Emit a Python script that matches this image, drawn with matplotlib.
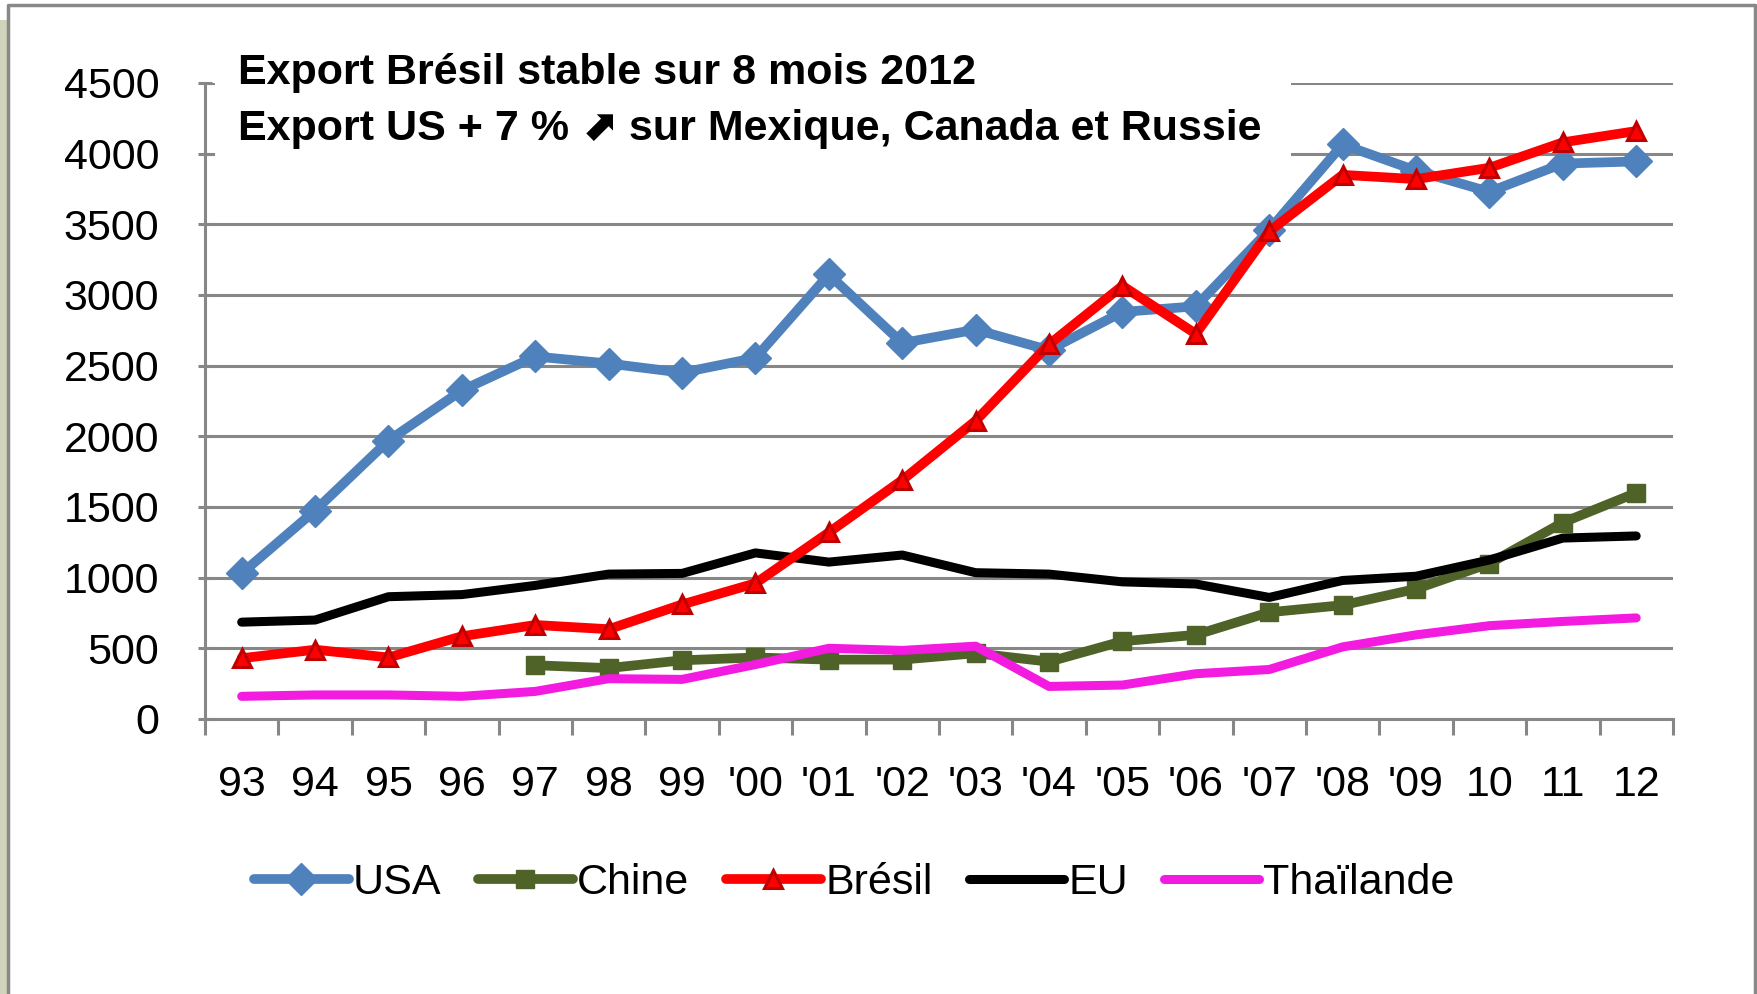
import matplotlib
matplotlib.use('Agg')
import matplotlib.pyplot as plt
from matplotlib.patches import Rectangle
from matplotlib.lines import Line2D
import numpy as np

# data (export volumes per year)
years = ['93', '94', '95', '96', '97', '98', '99', "'00", "'01", "'02", "'03",
         "'04", "'05", "'06", "'07", "'08", "'09", '10', '11', '12']
usa = [1030, 1475, 1970, 2325, 2565, 2515, 2450, 2555, 3145, 2660, 2755,
       2610, 2880, 2920, 3460, 4065, 3880, 3730, 3930, 3945]
chine = [np.nan] * 4 + [380, 360, 415, 435, 420, 420, 465, 405, 550, 595,
                        755, 805, 920, 1100, 1390, 1600]
bresil = [430, 490, 435, 585, 665, 635, 810, 960, 1320, 1690, 2110, 2650,
          3065, 2725, 3450, 3850, 3820, 3900, 4080, 4160]
eu = [685, 700, 865, 880, 945, 1025, 1030, 1175, 1110, 1160, 1035, 1025,
      970, 955, 860, 980, 1010, 1125, 1280, 1295]
thai = [160, 170, 170, 160, 195, 285, 280, 385, 500, 485, 515, 230, 240,
        320, 350, 510, 595, 660, 690, 715]

FONT = ['Liberation Sans', 'DejaVu Sans']
GREY = '#878787'

fig = plt.figure(figsize=(17.58, 9.94), dpi=100)
ax = fig.add_axes([0.1166, 0.2767, 0.835, 0.6398])

x = np.arange(len(years))
ax.plot(x, usa, color='#4f81bd', lw=7, marker='D', ms=16, mec='#4f81bd',
        label='USA', zorder=4, solid_capstyle='round')
ax.plot(x, chine, color='#4f6228', lw=7, marker='s', ms=13, mec='#4f6228',
        label='Chine', zorder=3, solid_capstyle='round')
ax.plot(x, bresil, color='#ff0000', lw=7, marker='^', ms=13, mfc='#ff0000',
        mec='#c00000', mew=2.2, label='Brésil', zorder=5, solid_capstyle='round')
ax.plot(x, eu, color='black', lw=6.5, label='EU', zorder=3,
        solid_capstyle='round')
ax.plot(x, thai, color='#f31bdf', lw=6.5, label='Thaïlande', zorder=3,
        solid_capstyle='round')

ax.set_xlim(-0.5, len(years) - 0.5)
ax.set_ylim(0, 4500)

# y axis: gridlines with crossing ticks
ax.set_yticks(np.arange(0, 4501, 500))
ax.yaxis.grid(True, color=GREY, lw=2.2)
ax.set_axisbelow(True)
ax.tick_params(axis='y', direction='inout', length=10, width=2.2, color=GREY,
               pad=28, labelsize=31)

# x axis: ticks between categories, labels centred
ax.set_xticks(np.arange(-0.5, len(years), 1))
ax.set_xticklabels([])
ax.set_xticks(x, minor=True)
ax.set_xticklabels(years, minor=True)
ax.tick_params(axis='x', which='major', direction='out', length=11.5,
               width=2.2, color=GREY)
ax.tick_params(axis='x', which='minor', length=0, pad=33, labelsize=31)

for lab in ax.get_xticklabels(minor=True) + ax.get_yticklabels():
    lab.set_family(FONT)

for s in ['top', 'right']:
    ax.spines[s].set_visible(False)
for s in ['left', 'bottom']:
    ax.spines[s].set_color(GREY)
    ax.spines[s].set_linewidth(2.2)

# white box behind the title text
ax.add_patch(Rectangle((-0.36, 3900), 14.65, 900, facecolor='white',
                       edgecolor='none', zorder=1, clip_on=False))

fig.text(0.1354, 0.9155, 'Export Brésil stable sur 8 mois 2012',
         family=FONT, weight='bold', fontsize=31, va='baseline')
fig.text(0.1354, 0.859, 'Export US + 7 % \u2b08 sur Mexique, Canada et Russie',
         family=FONT, weight='bold', fontsize=31, va='baseline')

leg = fig.legend(loc='center', bbox_to_anchor=(0.486, 0.112), ncol=5,
                 frameon=False, handlelength=2.2, handletextpad=0.1,
                 columnspacing=0.85, prop={'family': FONT, 'size': 31})

# outer chart frame
fig.add_artist(Rectangle((0, 0), 7 / 1758, 0.98, transform=fig.transFigure,
                         facecolor='#cfd4bc', edgecolor='none'))
fig.add_artist(Line2D([0.0045, 0.0045, 0.9983, 0.9983], [0, 0.995, 0.995, 0],
                      transform=fig.transFigure, color='#888888', lw=2.5))

fig.savefig('out.png', dpi=100)
